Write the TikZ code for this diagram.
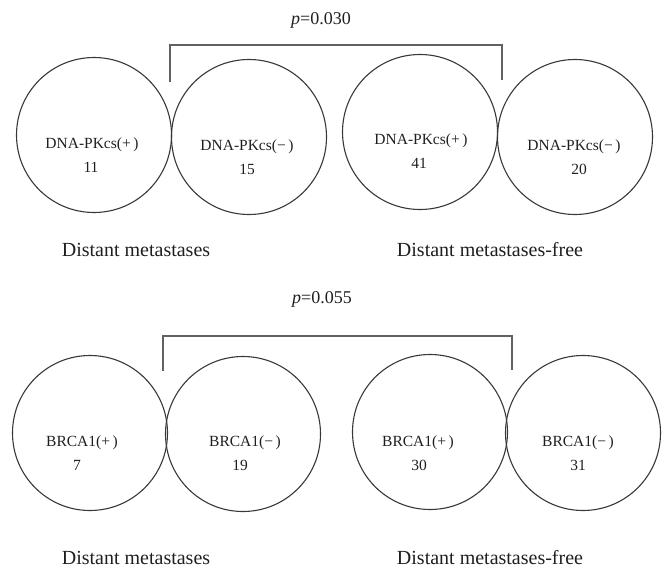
\documentclass[tikz,border=0pt]{standalone}
\usepackage{fontspec}
\setmainfont{Liberation Serif}
\begin{document}
\begin{tikzpicture}[x=1pt,y=-1pt,
  every node/.style={text=black!88},
  ring/.style={circle,draw=black!78,line width=1.1pt,minimum size=155pt,inner sep=0pt},
  intext/.style={font=\fontsize{15.5}{18}\selectfont,inner sep=0pt},
  grp/.style={font=\fontsize{20}{23}\selectfont,inner sep=0pt},
  pval/.style={font=\fontsize{18}{20}\selectfont,inner sep=0pt},
  brk/.style={draw=black!62,line width=1.4pt}]
\useasboundingbox (0,0) rectangle (663,578);
% ---------- top panel ----------
\node[pval] (p1) at (321,20) {\textit{p}=0.030};
\node[ring] (A) at (94,135) {};
\node[ring] (B) at (249,137) {};
\node[ring] (C) at (420,132) {};
\node[ring] (D) at (575,137) {};
\node[intext] (A1) at (92,145) {DNA-PKcs(+\,)};
\node[intext] (A2) at (91,167) {11};
\node[intext] (B1) at (247,147) {DNA-PKcs(−\,)};
\node[intext] (B2) at (247,169) {15};
\node[intext] (C1) at (421,141) {DNA-PKcs(+\,)};
\node[intext] (C2) at (419,163) {41};
\node[intext] (D1) at (574,147) {DNA-PKcs(−\,)};
\node[intext] (D2) at (579,169) {20};
\coordinate (b1l) at (170,82);
\coordinate (b1tl) at (170,45);
\coordinate (b1tr) at (502,45);
\coordinate (b1r) at (502,80);
\draw[brk] (b1l) -- (b1tl) -- (b1tr) -- (b1r);
\node[grp] (g1) at (136,250) {Distant metastases};
\node[grp] (g2) at (490,250) {Distant metastases-free};
% ---------- bottom panel ----------
\node[pval] (p2) at (322,299) {\textit{p}=0.055};
\node[ring] (E) at (90,433) {};
\node[ring] (F) at (243,434) {};
\node[ring] (G) at (430,432) {};
\node[ring] (H) at (583,433) {};
\node[intext] (E1) at (82,443) {BRCA1(+\,)};
\node[intext] (E2) at (77,465) {7};
\node[intext] (F1) at (245,443) {BRCA1(−\,)};
\node[intext] (F2) at (240,465) {19};
\node[intext] (G1) at (418,443) {BRCA1(+\,)};
\node[intext] (G2) at (419,465) {30};
\node[intext] (H1) at (578,443) {BRCA1(−\,)};
\node[intext] (H2) at (578,465) {31};
\coordinate (b2l) at (163,371);
\coordinate (b2tl) at (163,336);
\coordinate (b2tr) at (512,336);
\coordinate (b2r) at (512,370);
\draw[brk] (b2l) -- (b2tl) -- (b2tr) -- (b2r);
\node[grp] (g3) at (136,558) {Distant metastases};
\node[grp] (g4) at (490,558) {Distant metastases-free};
\end{tikzpicture}
\end{document}
